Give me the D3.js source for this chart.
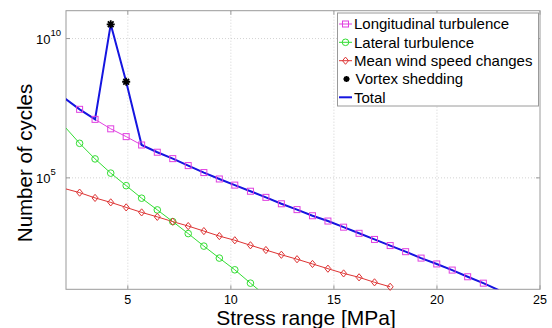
<!DOCTYPE html>
<html>
<head>
<meta charset="utf-8">
<script src="https://cdn.jsdelivr.net/npm/d3@7"></script>
<style>
  html, body { margin: 0; padding: 0; background: #fff; }
  svg { display: block; font-family: "Liberation Sans", Arial, sans-serif; }
</style>
</head>
<body>
<svg id="chart" width="552" height="328"></svg>
<script>
// ---- data ----
const stressRange = [1.91, 2.66, 3.41, 4.17, 4.92, 5.67, 6.43, 7.18, 7.93, 8.69, 9.44, 10.19, 10.95, 11.70,
  12.45, 13.21, 13.96, 14.71, 15.47, 16.22, 16.97, 17.73, 18.48, 19.23, 19.99, 20.74, 21.49, 22.25, 23.00];
// log10 of number of cycles
const longitudinalLog = [7.87, 7.46, 7.10, 6.76, 6.48, 6.18, 5.92, 5.69, 5.44, 5.19, 4.96, 4.74, 4.52, 4.30,
  4.07, 3.86, 3.64, 3.45, 3.23, 3.01, 2.79, 2.57, 2.35, 2.12, 1.91, 1.69, 1.45, 1.22, 0.97];
const lateralLog = [6.86, 6.24, 5.68, 5.17, 4.72, 4.27, 3.85, 3.43, 3.00, 2.55, 2.12, 1.70, 1.22, 0.76];
const meanWindLog = [4.62, 4.47, 4.28, 4.12, 3.94, 3.76, 3.60, 3.43, 3.27, 3.09, 2.91, 2.76, 2.58, 2.41,
  2.24, 2.08, 1.91, 1.74, 1.57, 1.43, 1.25, 1.09];
const vortexX = [4.17, 4.92];
const vortexLog = [10.51, 8.45];
const totalLog = [7.87, 7.46, 7.10, 10.51, 8.45, 6.18, 5.92, 5.69, 5.44, 5.19, 4.96, 4.74, 4.52, 4.30,
  4.07, 3.86, 3.64, 3.45, 3.23, 3.01, 2.79, 2.57, 2.35, 2.12, 1.91, 1.69, 1.45, 1.22, 0.97];
const xTicks = [5, 10, 15, 20, 25];
const yTickExps = [5, 10];
const legendLabels = ["Longitudinal turbulence", "Lateral turbulence", "Mean wind speed changes", "Vortex shedding", "Total"];
const xDomain = [2, 25];
const yDomain = [1e1, 1e11];

// ---- layout ----
const L = 66, R = 540, T = 10.7, B = 289.3;
const svg = d3.select("#chart");
const x = d3.scaleLinear().domain(xDomain).range([L, R]);
const y = d3.scaleLog().domain(yDomain).range([B, T]);

const colors = { long: "#e040e0", lat: "#33dd33", mean: "#dd3333", vortex: "#000000", total: "#1515e0" };

const toPts = (xs, logs) => logs.map((v, i) => ({ x: xs[i], y: Math.pow(10, v) }));
const longPts = toPts(stressRange, longitudinalLog);
const latPts = toPts(stressRange, lateralLog);
const meanPts = toPts(stressRange, meanWindLog);
const totPts = toPts(stressRange, totalLog);
const vortPts = toPts(vortexX, vortexLog);
const inside = p => p.x >= xDomain[0] && p.x <= xDomain[1] && p.y >= yDomain[0] && p.y <= yDomain[1];

svg.append("defs").append("clipPath").attr("id", "clip")
  .append("rect").attr("x", L).attr("y", T).attr("width", R - L).attr("height", B - T);

// grid
const grid = svg.append("g").attr("stroke", "#c8c8c8").attr("stroke-width", 0.8).attr("stroke-dasharray", "1,2");
xTicks.filter(t => t > xDomain[0] && t < xDomain[1]).forEach(t => {
  grid.append("line").attr("x1", x(t)).attr("x2", x(t)).attr("y1", T).attr("y2", B);
});
yTickExps.forEach(e => {
  grid.append("line").attr("x1", L).attr("x2", R).attr("y1", y(Math.pow(10, e))).attr("y2", y(Math.pow(10, e)));
});

// axes box + ticks
const axisColor = "#9a9a9a";
svg.append("rect").attr("x", L).attr("y", T).attr("width", R - L).attr("height", B - T)
  .attr("fill", "none").attr("stroke", axisColor).attr("stroke-width", 1);
const tk = svg.append("g").attr("stroke", axisColor).attr("stroke-width", 1);
xTicks.forEach(t => {
  tk.append("line").attr("x1", x(t)).attr("x2", x(t)).attr("y1", B).attr("y2", B - 4);
  tk.append("line").attr("x1", x(t)).attr("x2", x(t)).attr("y1", T).attr("y2", T + 4);
});
yTickExps.forEach(e => {
  const yy = y(Math.pow(10, e));
  tk.append("line").attr("x1", L).attr("x2", L + 4).attr("y1", yy).attr("y2", yy);
  tk.append("line").attr("x1", R).attr("x2", R - 4).attr("y1", yy).attr("y2", yy);
});

// tick labels
svg.append("g").selectAll("text").data(xTicks).join("text")
  .attr("x", d => x(d)).attr("y", 303.5).attr("text-anchor", "middle")
  .attr("font-size", 12.5).attr("fill", "#000").text(d => d);
yTickExps.forEach(e => {
  const yy = y(Math.pow(10, e));
  const t = svg.append("text").attr("x", 36).attr("y", yy + 5).attr("font-size", 13).attr("fill", "#000");
  t.append("tspan").text("10");
  t.append("tspan").attr("font-size", 9.5).attr("dy", -8).text(e);
});

// axis titles
svg.append("text").attr("x", (L + R) / 2 + 3).attr("y", 325).attr("text-anchor", "middle")
  .attr("font-size", 21).attr("fill", "#000").text("Stress range [MPa]");
svg.append("text").attr("transform", "translate(31.5,163) rotate(-90)").attr("text-anchor", "middle")
  .attr("font-size", 20.5).attr("fill", "#000").text("Number of cycles");

// series
const line = d3.line().x(d => x(d.x)).y(d => y(d.y));
const plot = svg.append("g");
const linesG = plot.append("g").attr("clip-path", "url(#clip)");

function squareAt(g, cx, cy, col) {
  g.append("rect").attr("x", cx - 3).attr("y", cy - 3).attr("width", 6).attr("height", 6)
    .attr("fill", "none").attr("stroke", col).attr("stroke-width", 1);
}
function circleAt(g, cx, cy, col) {
  g.append("circle").attr("cx", cx).attr("cy", cy).attr("r", 3.3)
    .attr("fill", "none").attr("stroke", col).attr("stroke-width", 1);
}
function diamondAt(g, cx, cy, col) {
  g.append("path").attr("d", `M${cx},${cy - 3.6}L${cx + 3},${cy}L${cx},${cy + 3.6}L${cx - 3},${cy}Z`)
    .attr("fill", "none").attr("stroke", col).attr("stroke-width", 1);
}
function starAt(g, cx, cy, col, r) {
  const d = r * 0.72;
  g.append("path")
    .attr("d", `M${cx - r},${cy}L${cx + r},${cy}M${cx},${cy - r}L${cx},${cy + r}M${cx - d},${cy - d}L${cx + d},${cy + d}M${cx - d},${cy + d}L${cx + d},${cy - d}`)
    .attr("stroke", col).attr("stroke-width", 1.8).attr("fill", "none");
}

linesG.append("path").datum(longPts).attr("d", line).attr("fill", "none").attr("stroke", colors.long).attr("stroke-width", 1);
linesG.append("path").datum(latPts).attr("d", line).attr("fill", "none").attr("stroke", colors.lat).attr("stroke-width", 1);
linesG.append("path").datum(meanPts).attr("d", line).attr("fill", "none").attr("stroke", colors.mean).attr("stroke-width", 1);

const mk = plot.append("g");
longPts.filter(inside).forEach(p => squareAt(mk, x(p.x), y(p.y), colors.long));
latPts.filter(inside).forEach(p => circleAt(mk, x(p.x), y(p.y), colors.lat));
meanPts.filter(inside).forEach(p => diamondAt(mk, x(p.x), y(p.y), colors.mean));

linesG.append("path").datum(totPts).attr("d", line).attr("fill", "none").attr("stroke", colors.total).attr("stroke-width", 2);
vortPts.filter(inside).forEach(p => starAt(mk, x(p.x), y(p.y), colors.vortex, 4));

// legend
const lg = svg.append("g");
lg.append("rect").attr("x", 337.5).attr("y", 13).attr("width", 201).attr("height", 93)
  .attr("fill", "#fff").attr("stroke", axisColor).attr("stroke-width", 1);
const rowY = [24, 42.3, 60.7, 79, 97.3];
const lx1 = 339, lx2 = 352, lmx = 345.5;
legendLabels.forEach((lab, i) => {
  const yy = rowY[i];
  if (i === 0) { lg.append("line").attr("x1", lx1).attr("x2", lx2).attr("y1", yy).attr("y2", yy).attr("stroke", colors.long); squareAt(lg, lmx, yy, colors.long); }
  if (i === 1) { lg.append("line").attr("x1", lx1).attr("x2", lx2).attr("y1", yy).attr("y2", yy).attr("stroke", colors.lat); circleAt(lg, lmx, yy, colors.lat); }
  if (i === 2) { lg.append("line").attr("x1", lx1).attr("x2", lx2).attr("y1", yy).attr("y2", yy).attr("stroke", colors.mean); diamondAt(lg, lmx, yy, colors.mean); }
  if (i === 3) { starAt(lg, 346.5, yy, colors.vortex, 3); }
  if (i === 4) { lg.append("line").attr("x1", lx1).attr("x2", lx2).attr("y1", yy).attr("y2", yy).attr("stroke", colors.total).attr("stroke-width", 2); }
  lg.append("text").attr("x", i === 3 ? 355.5 : 354).attr("y", yy).attr("dy", "0.36em")
    .attr("font-size", 15).attr("fill", "#000").text(lab);
});
</script>
</body>
</html>
